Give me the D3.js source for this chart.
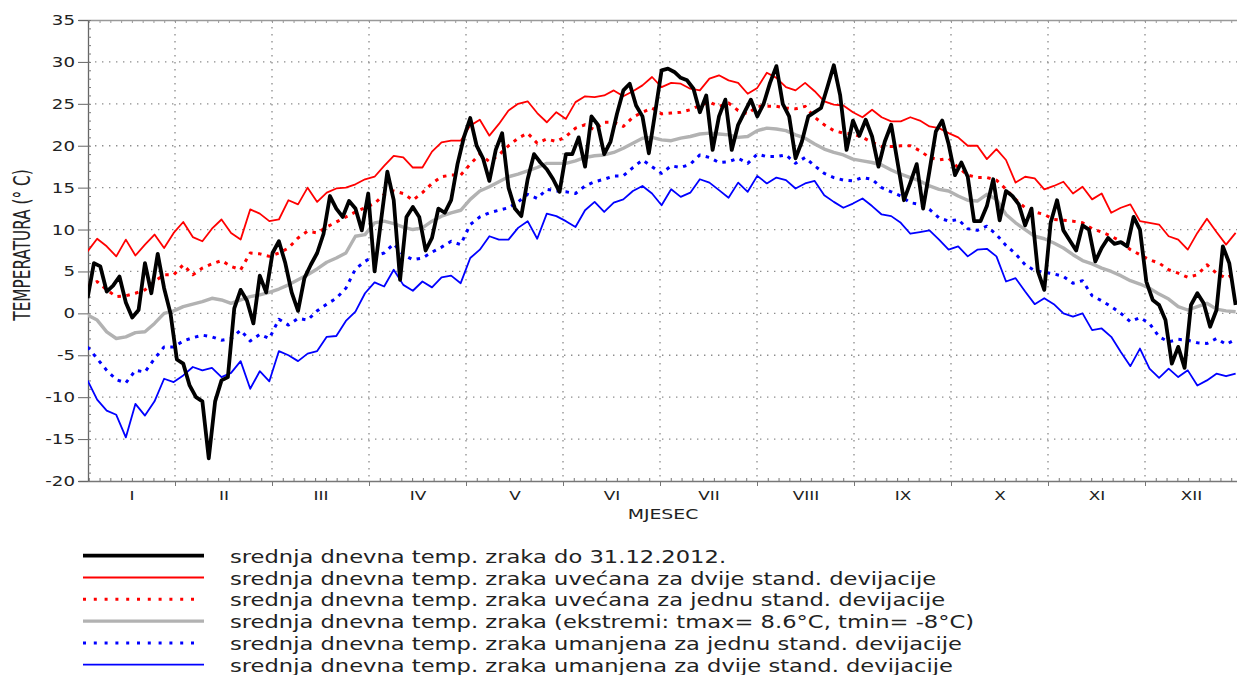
<!doctype html>
<html>
<head>
<meta charset="utf-8">
<script src="https://d3js.org/d3.v7.min.js"></script>
<style>
  body { margin: 0; background: #fff; }
  text { font-family: "DejaVu Sans", sans-serif; fill: #222; }
</style>
</head>
<body>
<script>
// month names (roman) and y ticks
var months = ["I", "II", "III", "IV", "V", "VI", "VII", "VIII", "IX", "X", "XI", "XII"];
var yTicks = [-20, -15, -10, -5, 0, 5, 10, 15, 20, 25, 30, 35];

// climatology series: one value every 3rd day, day 3 .. 363
var climDays = d3.range(3, 364, 3);
// 2012 series: one value every 2nd day, day 3 .. 363
var obsDays = d3.range(3, 364, 2);

var tMean = [
  -0.2, -0.8, -2.2, -3.0, -2.8, -2.3, -2.2, -1.2, 0.0, 0.3,
  0.8, 1.1, 1.4, 1.8, 1.6, 1.2, 1.6, 2.0, 2.2, 2.5,
  2.9, 3.4, 4.0, 4.6, 5.3, 6.1, 6.6, 7.2, 9.2, 9.4,
  10.8, 11.0, 10.7, 10.3, 10.0, 10.2, 11.0, 11.6, 12.0, 12.3,
  13.6, 14.6, 15.1, 15.7, 16.3, 16.6, 17.0, 17.4, 17.9, 17.9,
  17.9, 18.2, 18.6, 18.8, 18.9, 19.2, 19.7, 20.3, 20.9, 21.0,
  20.7, 20.6, 20.9, 21.1, 21.4, 21.5, 21.4, 21.3, 21.0, 21.1,
  21.8, 22.1, 22.0, 21.8, 21.3, 20.9, 20.2, 19.6, 19.2, 18.9,
  18.4, 18.2, 18.0, 17.7, 17.1, 16.6, 16.2, 15.8, 15.2, 14.8,
  14.6, 14.0, 13.5, 13.4, 14.2, 13.6, 11.8, 10.8, 10.0, 9.2,
  8.9, 8.4, 7.8, 7.0, 6.3, 5.9, 5.4, 5.0, 4.5, 3.9,
  3.5, 3.0, 2.3, 1.7, 0.8, 0.4, 0.8, 1.2, 0.5, 0.3,
  0.2
];

var tPlus2 = [
  7.4, 8.9, 8.0, 6.8, 8.8, 6.9, 8.2, 9.4, 7.8, 9.6,
  10.9, 9.1, 8.6, 10.1, 11.2, 9.6, 8.8, 12.4, 11.9, 11.0,
  11.2, 13.5, 13.0, 15.0, 13.3, 14.4, 14.9, 15.0, 15.4, 16.0,
  16.3, 17.6, 18.8, 18.6, 17.4, 17.4, 19.3, 20.4, 20.6, 20.6,
  22.4, 23.1, 21.2, 22.6, 24.2, 25.0, 25.3, 23.9, 22.8, 24.0,
  23.2, 25.2, 25.9, 25.8, 26.0, 26.6, 25.9, 26.5, 27.2, 28.2,
  27.0, 27.5, 27.4, 26.8, 26.6, 28.0, 28.4, 27.8, 27.5, 26.2,
  26.9, 28.7, 28.1, 27.0, 26.6, 27.5, 26.5, 25.3, 24.9, 24.8,
  24.0, 23.4, 24.3, 23.4, 22.9, 22.9, 23.4, 23.0, 22.3, 22.1,
  21.5, 21.0, 20.0, 20.0, 18.4, 19.6, 18.3, 15.6, 16.3, 16.1,
  14.8, 15.2, 15.7, 14.3, 15.1, 13.6, 14.3, 12.0, 12.6, 13.0,
  11.0, 10.8, 10.6, 9.2, 8.8, 7.6, 9.6, 11.3, 9.7, 8.2,
  9.6
];

var tPlus1 = [
  3.3, 3.8, 2.8, 2.0, 2.1, 2.4, 2.8, 3.8, 4.6, 4.6,
  5.8, 4.6, 5.4, 5.9, 6.3, 5.6, 5.2, 7.2, 7.1, 6.8,
  7.2, 7.8, 9.0, 9.8, 9.6, 10.3, 10.9, 11.5, 12.1, 12.6,
  13.1, 14.2, 14.6, 14.3, 13.5, 14.4, 15.5, 16.3, 16.5, 16.5,
  17.8, 19.0, 18.1, 18.9, 20.0, 20.9, 21.5, 20.3, 20.8, 20.5,
  21.1, 22.1, 22.5, 21.9, 22.8, 22.8, 22.3, 23.4, 24.0, 24.5,
  23.8, 23.9, 24.0, 24.3, 24.8, 25.2, 24.7, 25.1, 24.2, 23.8,
  24.7, 24.7, 24.7, 24.5, 24.4, 24.7, 23.4, 22.5, 21.8, 21.5,
  21.4, 21.0, 20.4, 19.9, 19.9, 20.0, 20.0, 19.4, 18.6, 18.3,
  18.5, 17.4, 16.5, 16.2, 16.2, 15.9, 14.8, 13.6, 12.6, 12.1,
  11.8, 11.2, 11.1, 11.0, 10.8, 10.1, 9.7, 9.2, 8.6, 7.6,
  7.0, 6.4, 6.0, 5.2, 4.8, 4.3, 4.6, 5.8, 4.8, 4.2,
  4.8
];

var tMinus1 = [
  -4.0, -5.4, -6.8, -7.9, -8.3, -6.8, -7.0, -5.4, -4.0, -4.0,
  -3.3, -2.9, -2.6, -2.8, -3.2, -3.0, -2.0, -3.3, -2.5, -3.0,
  -0.7, -1.4, -0.6, -0.8, 0.3, 1.1, 1.8, 3.0, 5.3, 6.2,
  6.9, 7.2, 8.3, 7.0, 6.4, 6.6, 7.3, 7.9, 8.6, 8.2,
  10.6, 11.5, 12.0, 12.3, 12.6, 13.3, 14.2, 13.7, 14.8, 14.6,
  14.5, 14.3, 15.2, 15.7, 16.0, 16.4, 16.4, 17.4, 18.3, 17.5,
  16.7, 17.6, 17.4, 17.8, 18.9, 18.6, 18.0, 18.1, 18.5, 17.9,
  19.0, 18.7, 18.7, 18.9, 17.9, 18.6, 17.6, 16.7, 16.2, 15.9,
  15.8, 16.2, 16.0, 15.0, 14.5, 14.0, 13.2, 13.0, 12.4, 11.4,
  11.0, 11.2, 10.1, 9.9, 10.4, 9.4, 8.1, 7.1, 5.8, 5.1,
  4.9, 4.7, 4.4, 3.6, 3.9, 2.1, 1.5, 0.8, 0.0, -1.0,
  -0.5, -1.2, -2.8, -3.4, -3.1, -3.2, -3.5, -3.6, -3.0, -3.7,
  -3.1
];

var tMinus2 = [
  -8.0, -10.3, -11.6, -12.1, -14.8, -10.8, -12.2, -10.5, -7.8, -8.2,
  -7.4, -6.4, -6.8, -6.5, -7.6, -7.1, -5.7, -9.0, -6.9, -8.1,
  -4.5, -5.0, -5.7, -4.8, -4.5, -2.8, -2.7, -0.9, 0.2, 2.4,
  3.7, 3.2, 5.2, 3.4, 2.7, 3.8, 3.1, 4.3, 4.5, 3.6,
  6.6, 7.6, 9.2, 8.8, 8.8, 10.2, 11.0, 8.9, 11.9, 11.6,
  11.0, 10.3, 12.3, 13.3, 12.1, 13.2, 13.6, 14.6, 15.2, 14.3,
  12.9, 14.8, 13.9, 14.4, 16.0, 15.6, 14.7, 13.8, 15.6, 14.5,
  16.4, 15.5, 16.2, 15.9, 14.9, 15.5, 15.8, 14.1, 13.3, 12.6,
  13.1, 13.7, 12.8, 11.8, 11.6, 10.8, 9.5, 9.7, 9.9, 8.8,
  7.6, 8.0, 6.8, 7.6, 7.7, 6.8, 3.8, 4.2, 2.6, 1.1,
  1.8, 1.1, 0.0, -0.4, 0.0, -2.0, -1.8, -2.8, -4.6, -6.3,
  -4.2, -6.6, -7.7, -6.6, -7.6, -6.8, -8.6, -8.0, -7.2, -7.5,
  -7.2
];

var t2012 = [
  1.8, 6.0, 5.6, 2.6, 3.3, 4.4, 1.3, -0.5, 0.4, 6.0,
  2.4, 7.1, 3.0, 0.0, -5.5, -6.0, -8.6, -10.0, -10.5, -17.3,
  -10.5, -8.0, -7.6, 0.6, 2.8, 1.5, -1.2, 4.5, 2.5, 7.2,
  8.6, 6.0, 2.5, 0.3, 4.2, 5.8, 7.2, 9.5, 14.0, 12.5,
  11.5, 13.4, 12.5, 9.9, 14.3, 5.0, 11.0, 16.9, 13.5, 4.0,
  11.5, 12.7, 11.5, 7.5, 9.0, 12.5, 12.0, 13.5, 17.8, 21.0,
  23.3, 20.0, 18.5, 15.8, 19.5, 21.5, 15.0, 12.5, 11.6, 16.0,
  19.0, 18.0, 17.2, 16.0, 14.5, 19.0, 19.0, 21.0, 17.5, 23.5,
  22.5, 19.0, 20.5, 23.8, 26.6, 27.4, 24.8, 23.5, 19.1, 24.0,
  29.0, 29.2, 28.8, 28.1, 27.8, 26.8, 24.0, 26.0, 19.5, 23.5,
  25.5, 19.5, 22.5, 24.0, 25.5, 23.5, 25.0, 27.5, 29.5, 25.0,
  23.5, 18.5, 20.5, 23.5, 24.0, 24.5, 27.0, 29.6, 26.0, 19.5,
  23.0, 21.2, 23.1, 21.1, 17.5, 20.5, 22.5, 18.0, 13.5, 15.6,
  17.8, 12.5, 17.0, 21.7, 23.0, 20.2, 16.5, 18.0, 16.3, 11.0,
  11.0, 12.8, 16.0, 11.1, 14.6, 14.0, 13.0, 10.5, 12.5, 5.0,
  2.8, 10.8, 13.5, 9.9, 8.7, 7.5, 10.5, 10.0, 6.2, 7.8,
  9.0, 8.3, 8.5, 8.0, 11.5, 10.0, 3.8, 1.6, 1.0, -0.8,
  -6.0, -4.0, -6.5, 1.0, 2.4, 1.2, -1.6, 0.4, 8.0, 6.0,
  1.0
];

var legendLabels = [
  "srednja dnevna temp. zraka do 31.12.2012.",
  "srednja dnevna temp. zraka uvećana za dvije stand. devijacije",
  "srednja dnevna temp. zraka uvećana za jednu stand. devijacije",
  "srednja dnevna temp. zraka (ekstremi: tmax= 8.6°C, tmin= -8°C)",
  "srednja dnevna temp. zraka umanjena za jednu stand. devijacije",
  "srednja dnevna temp. zraka umanjena za dvije stand. devijacije"
];

// ---- layout
var W = 1237, H = 675;
var pLeft = 88, pRight = 1237, pTop = 20, pBottom = 481;
var SX = 1.3; // text in the original is stretched horizontally

var svg = d3.select("body").append("svg")
    .attr("width", W).attr("height", H);

var monthLen = 365 / 12;
var x = d3.scaleLinear().domain([0, 365]).range([78, 1242]);
var y = d3.scaleLinear().domain([-20, 35]).range([pBottom, pTop]);

var bounds = d3.range(1, 12).map(function (k) { return k * monthLen; });

// grid
var grid = svg.append("g")
    .attr("stroke", "#8c8c8c")
    .attr("stroke-width", 1.3)
    .attr("stroke-dasharray", "1.4,5.6");
grid.selectAll(".hg")
    .data(yTicks.filter(function (t) { return t > -20 && t < 35; }))
    .enter().append("line")
    .attr("x1", pLeft).attr("x2", pRight)
    .attr("y1", function (d) { return y(d); })
    .attr("y2", function (d) { return y(d); });
grid.selectAll(".vg")
    .data(bounds)
    .enter().append("line")
    .attr("y1", pTop).attr("y2", pBottom)
    .attr("x1", function (d) { return x(d); })
    .attr("x2", function (d) { return x(d); });

// minor tick positions along x (9 per month)
var minorX = [];
for (var k = 0; k < 12; k++) {
  for (var j = 1; j < 9; j++) minorX.push(k * monthLen + j * monthLen / 9);
}
minorX = minorX.filter(function (d) { return x(d) > pLeft && x(d) < pRight; });

function styleAxis(g, color) {
  g.selectAll("path").attr("stroke", color).attr("stroke-width", 1.3);
  g.selectAll("line").attr("stroke", color);
}

// top border
var topAx = svg.append("g")
    .attr("transform", "translate(0," + pTop + ")")
    .call(d3.axisBottom(x).tickValues(minorX.concat(bounds)).tickSize(3).tickSizeOuter(0).tickFormat(""));
styleAxis(topAx, "#999");

// bottom axis: minor ticks upward, month boundaries downward
var botMinor = svg.append("g")
    .attr("transform", "translate(0," + pBottom + ")")
    .call(d3.axisTop(x).tickValues(minorX).tickSize(3).tickSizeOuter(0).tickFormat(""));
styleAxis(botMinor, "#777");
var botMajor = svg.append("g")
    .attr("transform", "translate(0," + pBottom + ")")
    .call(d3.axisBottom(x).tickValues(bounds).tickSize(5).tickSizeOuter(0).tickFormat(""));
styleAxis(botMajor, "#777");
botMajor.select(".domain").remove();

// month labels centred on the visible part of each month
var monthCenters = months.map(function (m, i) {
  var a = Math.max(x(i * monthLen), pLeft), b = Math.min(x((i + 1) * monthLen), pRight);
  return x.invert((a + b) / 2);
});
var monthAx = svg.append("g")
    .attr("transform", "translate(0," + pBottom + ")")
    .call(d3.axisBottom(x).tickValues(monthCenters).tickSize(0).tickPadding(10)
      .tickFormat(function (d, i) { return months[i]; }));
monthAx.select(".domain").remove();
monthAx.selectAll("text")
    .attr("font-size", 13).style("fill", "#222")
    .attr("font-family", "DejaVu Sans")
    .attr("transform", "scale(" + SX + ",1)");

// y axis (plain hyphen for negatives, as in the original)
var yAx = svg.append("g")
    .attr("transform", "translate(" + pLeft + ",0)")
    .call(d3.axisLeft(y).tickValues(yTicks).tickSize(10).tickPadding(3).tickSizeOuter(0)
      .tickFormat(function (d) { return String(d); }));
styleAxis(yAx, "#666");
yAx.selectAll("text")
    .attr("font-size", 14).style("fill", "#222")
    .attr("font-family", "DejaVu Sans")
    .attr("x", -13 / SX)
    .attr("transform", "scale(" + SX + ",1)");
var yMinor = svg.append("g")
    .attr("transform", "translate(" + pLeft + ",0)")
    .call(d3.axisRight(y).tickValues(d3.range(-20, 36, 1)).tickSize(3).tickFormat(""));
styleAxis(yMinor, "#777");
yMinor.select(".domain").remove();

// axis titles
svg.append("text")
    .attr("transform", "translate(663,519) scale(" + SX + ",1)")
    .attr("text-anchor", "middle")
    .attr("font-size", 14.5)
    .text("MJESEC");
svg.append("text")
    .attr("transform", "translate(30,245) scale(1.45,1) rotate(-90)")
    .attr("text-anchor", "middle")
    .attr("font-size", 15.3)
    .text("TEMPERATURA (° C)");

// ---- lines
svg.append("clipPath").attr("id", "plotclip")
  .append("rect")
    .attr("x", pLeft).attr("y", pTop)
    .attr("width", pRight - pLeft).attr("height", pBottom - pTop);

var plot = svg.append("g").attr("clip-path", "url(#plotclip)");

function lineFor(days) {
  return d3.line()
    .x(function (v, i) { return x(days[i]); })
    .y(function (v) { return y(v); });
}

var series = [
  { values: tPlus2,  days: climDays, color: "#ff0000", width: 1.8, dash: null },
  { values: tPlus1,  days: climDays, color: "#ff0000", width: 3,   dash: "3.5,5.5" },
  { values: tMean,   days: climDays, color: "#b2b2b2", width: 3.4, dash: null },
  { values: tMinus1, days: climDays, color: "#0000ff", width: 3,   dash: "3.5,5.5" },
  { values: tMinus2, days: climDays, color: "#0000ff", width: 1.8, dash: null },
  { values: t2012,   days: obsDays,  color: "#000000", width: 3.8, dash: null }
];

series.forEach(function (s) {
  plot.append("path")
    .datum(s.values)
    .attr("fill", "none")
    .attr("stroke", s.color)
    .attr("stroke-width", s.width)
    .attr("stroke-dasharray", s.dash)
    .attr("stroke-linejoin", "round")
    .attr("d", lineFor(s.days));
});

// ---- legend
var legendOrder = [5, 0, 1, 2, 3, 4]; // index into series for each label
var leg = svg.append("g");
legendLabels.forEach(function (lab, i) {
  var s = series[legendOrder[i]];
  var base = 562.7 + i * 21.8;
  leg.append("line")
    .attr("x1", 83).attr("x2", s.dash ? 194 : 204)
    .attr("y1", base - 7).attr("y2", base - 7)
    .attr("stroke", s.color)
    .attr("stroke-width", s.width)
    .attr("stroke-dasharray", s.dash ? "3,7.8" : null);
  leg.append("text")
    .attr("transform", "translate(230," + base + ") scale(1.33,1)")
    .attr("font-size", 17)
    .text(lab);
});
</script>
</body>
</html>
